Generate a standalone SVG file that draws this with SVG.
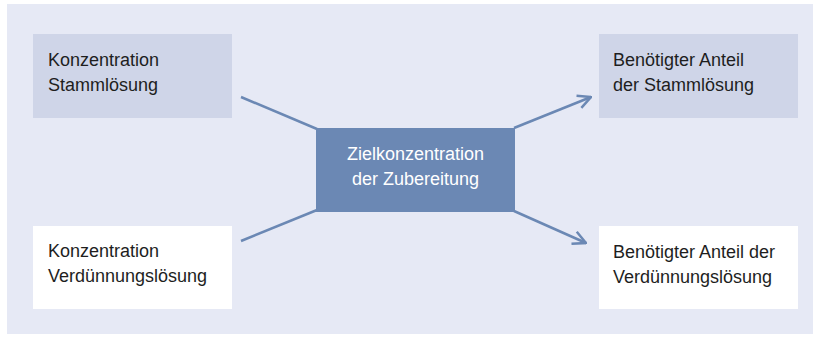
<svg xmlns="http://www.w3.org/2000/svg" width="820" height="337" viewBox="0 0 820 337">
<defs>
<marker id="arr" viewBox="0 0 16 16" refX="15" refY="8" markerWidth="16" markerHeight="16" markerUnits="userSpaceOnUse" orient="auto">
<path d="M2,1.5 L15,8 L2,14.5" fill="none" stroke="#6b88b4" stroke-width="2.5"/>
</marker>
</defs>
<style>
.t{font-family:"Liberation Sans",Arial,sans-serif;font-size:18px;fill:#1e1e1e}
.w{font-family:"Liberation Sans",Arial,sans-serif;font-size:18px;fill:#ffffff}
.lt{fill:#cfd5e8}
.wh{fill:#ffffff}
.c{stroke:#6b88b4;stroke-width:2.5;fill:none}
</style>
<rect x="0" y="0" width="820" height="337" fill="#ffffff"/>
<rect x="7" y="4" width="806" height="330" fill="#e6e9f5"/>
<g id="connectors">
<line class="c" x1="241" y1="97" x2="317" y2="129"/>
<line class="c" x1="241" y1="241" x2="317" y2="210"/>
<line class="c" x1="514" y1="128" x2="591" y2="97" marker-end="url(#arr)"/>
<line class="c" x1="514" y1="211" x2="586" y2="243" marker-end="url(#arr)"/>
</g>
<g id="n1">
<rect class="lt" x="33" y="34" width="199" height="84"/>
<text class="t" x="48" y="66">Konzentration</text>
<text class="t" x="48" y="91">Stammlösung</text>
</g>
<g id="n2">
<rect class="wh" x="33" y="226" width="199" height="83"/>
<text class="t" x="48" y="257">Konzentration</text>
<text class="t" x="48" y="282">Verdünnungslösung</text>
</g>
<g id="n3">
<rect fill="#6b88b4" x="316" y="128" width="199" height="84"/>
<text class="w" x="415.5" y="160" text-anchor="middle">Zielkonzentration</text>
<text class="w" x="415.5" y="185" text-anchor="middle">der Zubereitung</text>
</g>
<g id="n4">
<rect class="lt" x="599" y="34" width="199" height="84"/>
<text class="t" x="613" y="66">Benötigter Anteil</text>
<text class="t" x="613" y="91">der Stammlösung</text>
</g>
<g id="n5">
<rect class="wh" x="599" y="226" width="199" height="83"/>
<text class="t" x="613" y="258">Benötigter Anteil der</text>
<text class="t" x="613" y="283">Verdünnungslösung</text>
</g>
</svg>
